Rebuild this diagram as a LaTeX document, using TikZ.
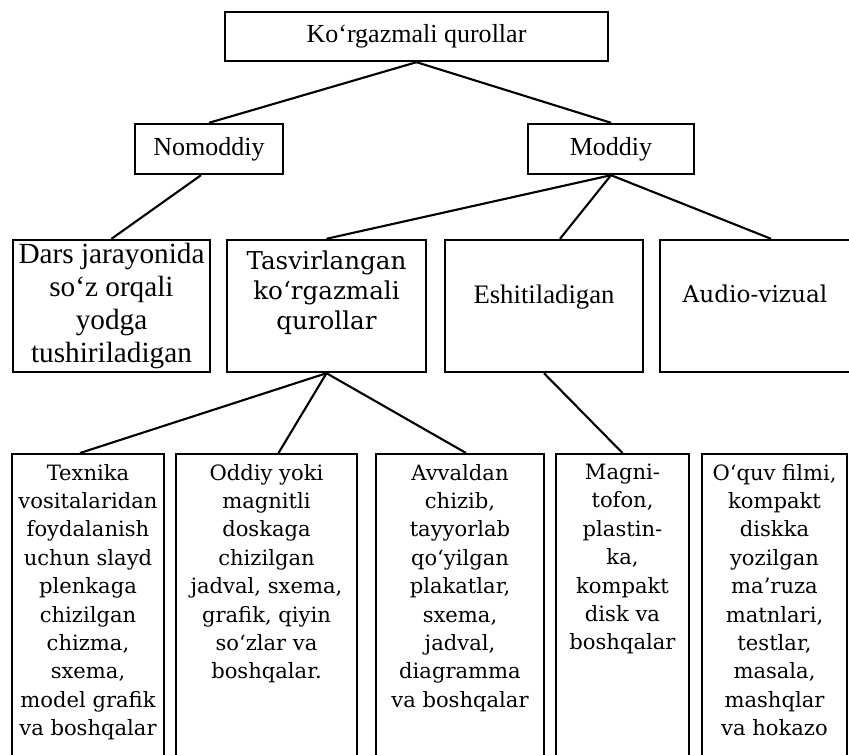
\documentclass[tikz,border=0pt]{standalone}
\usepackage{fontspec}
\setmainfont{Liberation Serif}
\newfontfamily\wideserif{DejaVu Serif}
\usepackage{tikz}
% top-aligned text for the open bottom boxes
\newcommand{\colbox}[2]{\parbox[t][9cm][t]{#1}{\centering #2}}

\begin{document}
\begin{tikzpicture}[
  x=0.025cm, y=-0.025cm,
  box/.style  = {draw, line width=1.7pt, align=center,
                 font=\fontsize{18.5}{21}\selectfont},
  mid/.style  = {box, minimum height=3.3cm, inner sep=2pt},
  leaf/.style = {draw, line width=1.7pt, anchor=north,
                 inner xsep=0pt, inner ysep=7pt,
                 font=\wideserif\fontsize{15}{20.2}\selectfont},
  link/.style = {line width=1.5pt}
]
\useasboundingbox (0,0) rectangle (849,755);
\clip (0,0) rectangle (849,755);

\node[box, minimum width=9.575cm, minimum height=1.225cm] (root)
  at (416.5,36.5) {Ko‘rgazmali qurollar};
\node[box, minimum width=3.7cm, minimum height=1.25cm] (nom)
  at (209,149) {Nomoddiy};
\node[box, minimum width=4.15cm, minimum height=1.25cm] (mod)
  at (611,149) {Moddiy};

\node[mid, minimum width=4.925cm, font=\fontsize{20.8}{23.5}\selectfont] (dars)
  at (111.5,306) {Dars jarayonida\\so‘z orqali\\yodga\\tushiriladigan};
\node[mid, minimum width=4.975cm, text depth=0.8cm,
      font=\wideserif\fontsize{17.5}{21.3}\selectfont] (tasv)
  at (326.5,306) {Tasvirlangan\\ko‘rgazmali\\qurollar};
\node[mid, minimum width=4.95cm, text depth=0.6cm,
      font=\fontsize{19}{22}\selectfont] (eshit)
  at (544,306) {Eshitiladigan};
\node[mid, minimum width=4.75cm, text depth=0.6cm,
      font=\wideserif\fontsize{16.5}{20}\selectfont] (audio)
  at (755,306) {Audio-vizual};

\node[leaf, minimum width=3.8cm] (tex) at (88,453)
  {\colbox{3.7cm}{Texnika\\vositalaridan\\foydalanish\\uchun slayd\\plenkaga\\chizilgan\\chizma,\\sxema,\\model grafik\\va boshqalar}};
\node[leaf, minimum width=4.525cm] (odd) at (266.5,453)
  {\colbox{4.4cm}{Oddiy yoki\\magnitli\\doskaga\\chizilgan\\jadval, sxema,\\grafik, qiyin\\so‘zlar va\\boshqalar.}};
\node[leaf, minimum width=4.2cm] (avv) at (460,453)
  {\colbox{4.1cm}{Avvaldan\\chizib,\\tayyorlab\\qo‘yilgan\\plakatlar,\\sxema,\\jadval,\\diagramma\\va boshqalar}};
\node[leaf, minimum width=3.325cm] (mag) at (622.5,453)
  {\colbox{3.2cm}{Magni-\\tofon,\\plastin-\\ka,\\kompakt\\disk va\\boshqalar}};
\node[leaf, minimum width=3.625cm] (oquv) at (774.5,453)
  {\colbox{3.55cm}{O‘quv filmi,\\kompakt\\diskka\\yozilgan\\ma’ruza\\matnlari,\\testlar,\\masala,\\mashqlar\\va hokazo}};

\draw[link] (root.south) -- (nom.north);
\draw[link] (root.south) -- (mod.north);
\draw[link] ([xshift=-0.2cm]nom.south) -- (dars.north);
\draw[link] (mod.south) -- (tasv.north);
\draw[link] (mod.south) -- ([xshift=0.4cm]eshit.north);
\draw[link] (mod.south) -- ([xshift=0.4cm]audio.north);
\draw[link] (tasv.south) -- ([xshift=-0.2cm]tex.north);
\draw[link] (tasv.south) -- ([xshift=0.3cm]odd.north);
\draw[link] (tasv.south) -- ([xshift=0.15cm]avv.north);
\draw[link] (eshit.south) -- (mag.north);
\end{tikzpicture}
\end{document}
